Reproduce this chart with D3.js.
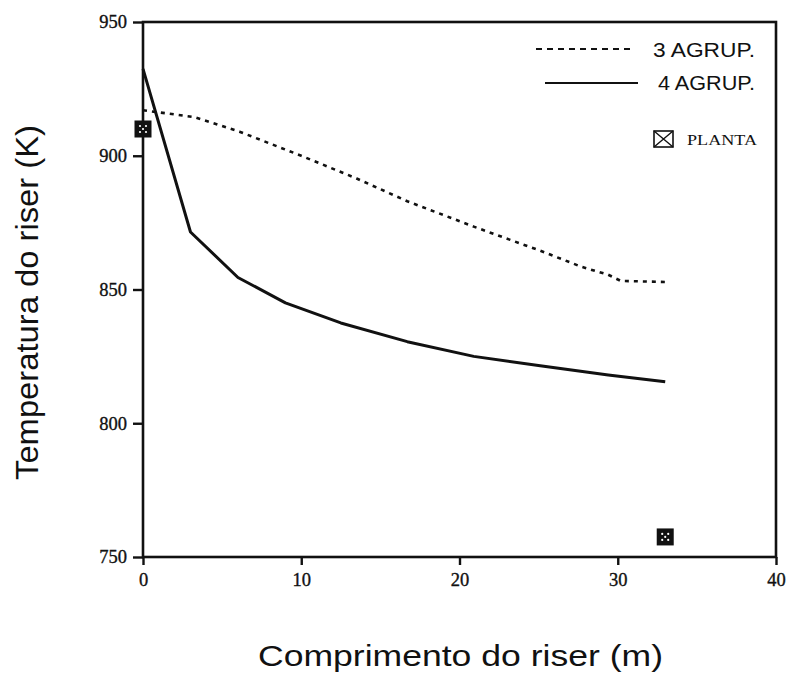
<!DOCTYPE html>
<html>
<head>
<meta charset="utf-8">
<script src="https://cdn.jsdelivr.net/npm/d3@7"></script>
<style>
  html, body { margin: 0; padding: 0; background: #fff; }
  svg { display: block; }
</style>
</head>
<body>
<div id="chart"></div>
<script>
// Riser temperature profiles along the riser length
const xTicks = [0, 10, 20, 30, 40];
const yTicks = [750, 800, 850, 900, 950];

const agrup3X = [0, 3.2, 6.1, 10, 13.5, 16.7, 20.9, 25.1, 27.7, 29.4, 30.2, 33.2];
const agrup3Y = [917, 914.5, 909, 900, 891.5, 883, 873.5, 864.5, 858.5, 855.5, 853.2, 852.8];

const agrup4X = [0, 3, 6, 9, 12.5, 16.7, 20.9, 25.1, 29.4, 33];
const agrup4Y = [932.5, 871.5, 854.5, 845, 837.5, 830.5, 825, 821.5, 818, 815.5];

const plantaX = [0, 33];
const plantaY = [910, 757.5];

const W = 792, H = 677;
const m = { left: 143, right: 16, top: 22, bottom: 120 };

const svg = d3.select("#chart").append("svg")
  .attr("width", W).attr("height", H);

const x = d3.scaleLinear().domain([0, 40]).range([m.left, W - m.right]);
const y = d3.scaleLinear().domain([750, 950]).range([H - m.bottom, m.top]);

const ink = "#111";
const sans = "'Liberation Sans', Arial, sans-serif";
const serif = "'Liberation Serif', 'Times New Roman', serif";

// frame
svg.append("rect")
  .attr("x", x(0)).attr("y", y(950))
  .attr("width", x(40) - x(0)).attr("height", y(750) - y(950))
  .attr("fill", "none").attr("stroke", ink).attr("stroke-width", 2.6);

// axes
const xAxis = svg.append("g")
  .attr("transform", `translate(0,${y(750)})`)
  .call(d3.axisBottom(x).tickValues(xTicks).tickSize(8).tickPadding(8).tickFormat(d3.format("d")));
const yAxis = svg.append("g")
  .attr("transform", `translate(${x(0)},0)`)
  .call(d3.axisLeft(y).tickValues(yTicks).tickSize(10).tickPadding(6).tickFormat(d3.format("d")));

[xAxis, yAxis].forEach(g => {
  g.select(".domain").remove();
  g.selectAll(".tick line").attr("stroke", ink).attr("stroke-width", 2.4);
  g.selectAll(".tick text")
    .attr("fill", ink)
    .attr("stroke", ink).attr("stroke-width", 0.35)
    .style("font-family", serif)
    .style("font-size", "18.5px");
});

// series
const line = d3.line().x(d => x(d[0])).y(d => y(d[1]));

const s3 = agrup3X.map((v, i) => [v, agrup3Y[i]]);
const s4 = agrup4X.map((v, i) => [v, agrup4Y[i]]);

svg.append("path").datum(s3)
  .attr("d", line)
  .attr("fill", "none").attr("stroke", ink)
  .attr("stroke-width", 2.6).attr("stroke-dasharray", "4,5");

svg.append("path").datum(s4)
  .attr("d", line)
  .attr("fill", "none").attr("stroke", ink)
  .attr("stroke-width", 3).attr("stroke-linejoin", "round");

// plant measurements: dark boxed-cross markers
const mk = 17;
const planta = plantaX.map((v, i) => [v, plantaY[i]]);
const pg = svg.append("g").selectAll("g").data(planta).join("g")
  .attr("transform", d => `translate(${x(d[0])},${y(d[1])})`);
pg.append("rect")
  .attr("x", -mk / 2).attr("y", -mk / 2).attr("width", mk).attr("height", mk)
  .attr("fill", ink);
pg.selectAll("circle").data([[-3, -3], [3, -3], [0, 0], [-3, 3], [3, 3]]).join("circle")
  .attr("cx", d => d[0]).attr("cy", d => d[1]).attr("r", 1.1).attr("fill", "#fff");

// legend
const lg = svg.append("g");
lg.append("line").attr("x1", 536).attr("x2", 631).attr("y1", 49).attr("y2", 49)
  .attr("stroke", ink).attr("stroke-width", 2).attr("stroke-dasharray", "6,5");
lg.append("text").attr("x", 653).attr("y", 57).attr("textLength", 102).text("3 AGRUP.");
lg.append("line").attr("x1", 545).attr("x2", 638).attr("y1", 83).attr("y2", 83)
  .attr("stroke", ink).attr("stroke-width", 2);
lg.append("text").attr("x", 658).attr("y", 90).attr("textLength", 97).text("4 AGRUP.");
lg.selectAll("text")
  .attr("lengthAdjust", "spacingAndGlyphs")
  .style("font-family", sans)
  .style("font-size", "19.5px").attr("fill", ink);

const bx = lg.append("g").attr("transform", "translate(654,131)");
bx.append("rect").attr("width", 19).attr("height", 16)
  .attr("fill", "none").attr("stroke", ink).attr("stroke-width", 1.6);
bx.append("path").attr("d", "M0,0L19,16M19,0L0,16")
  .attr("stroke", ink).attr("stroke-width", 1.4);
lg.append("text").attr("x", 687).attr("y", 145)
  .attr("textLength", 70).attr("lengthAdjust", "spacingAndGlyphs")
  .text("PLANTA")
  .style("font-family", serif)
  .style("font-size", "15px").attr("fill", ink);

// axis titles
svg.append("text")
  .attr("x", 258).attr("y", 666)
  .attr("textLength", 405).attr("lengthAdjust", "spacingAndGlyphs")
  .style("font-family", sans)
  .style("font-size", "29px").attr("fill", ink)
  .text("Comprimento do riser (m)");

svg.append("text")
  .attr("transform", `translate(38,480) rotate(-90)`)
  .attr("textLength", 355).attr("lengthAdjust", "spacingAndGlyphs")
  .style("font-family", sans)
  .style("font-size", "32px").attr("fill", ink)
  .text("Temperatura do riser (K)");
</script>
</body>
</html>
